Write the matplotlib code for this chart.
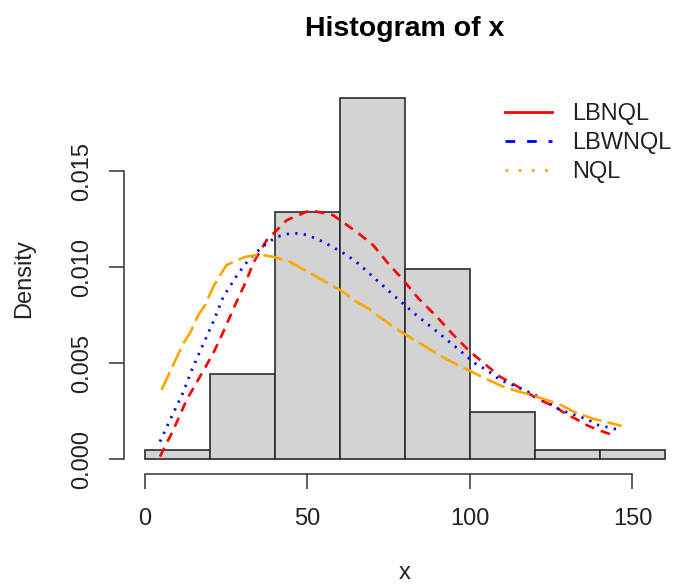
import numpy as np
import matplotlib
matplotlib.use("Agg")
import matplotlib.pyplot as plt
from matplotlib.lines import Line2D

plt.rcParams['font.family'] = ['Liberation Sans', 'DejaVu Sans']
plt.rcParams['lines.scale_dashes'] = False

# histogram of x (bin edges and counts, n = 101)
bin_edges = [0, 20, 40, 60, 80, 100, 120, 140, 160]
counts = [1, 9, 26, 38, 20, 5, 1, 1]

# fitted densities
lbnql_x = [4.6, 8.7, 12.8, 16.9, 21.0, 24.6, 27.7, 30.8, 33.5, 37.4, 43.6, 50.8,
           57.9, 65.1, 70.2, 74.4, 79.5, 84.1, 89.8, 94.4, 100.0, 105.6, 109.2,
           113.3, 116.4, 120.5, 122.6, 126.2, 129.2, 132.8, 135.9, 139.5, 143.1]
lbnql_y = [0.00014, 0.00152, 0.00309, 0.0043, 0.00552, 0.00682, 0.00803, 0.00916,
           0.01028, 0.0114, 0.01245, 0.01297, 0.01271, 0.01184, 0.01115, 0.01028,
           0.00933, 0.00838, 0.00742, 0.00656, 0.0056, 0.00482, 0.0043, 0.00392,
           0.00361, 0.00317, 0.003, 0.00274, 0.00239, 0.00208, 0.00178, 0.00152,
           0.00131]

lbwnql_x = [4.6, 8.2, 11.6, 14.4, 17.8, 21.0, 24.1, 28.7, 31.8, 34.4, 37.4, 40.5,
            44.6, 48.2, 51.3, 54.9, 58.5, 62.1, 65.6, 71.3, 77.2, 83.4, 89.5, 95.7,
            101.5, 105.9, 109.2, 113.1, 116.6, 120.5, 127.7, 135.4, 139.5, 143.1, 146.7]
lbwnql_y = [0.00092, 0.00222, 0.00343, 0.00465, 0.00595, 0.00716, 0.00846, 0.00968,
            0.01037, 0.0108, 0.01124, 0.01158, 0.01176, 0.01176, 0.01158, 0.01132,
            0.01098, 0.01063, 0.0102, 0.00933, 0.00843, 0.00752, 0.00669, 0.00583,
            0.005, 0.00456, 0.00413, 0.00387, 0.00361, 0.0033, 0.00257, 0.00213,
            0.00178, 0.00164, 0.00149]

nql_x = [5.1, 7.7, 11.8, 13.8, 16.4, 18.5, 21.0, 23.1, 25.1, 27.2, 30.8, 34.4, 36.4,
         39.5, 44.6, 48.2, 52.8, 56.4, 61.0, 64.1, 68.7, 72.3, 76.4, 79.5, 84.6,
         87.7, 92.3, 95.9, 100.5, 104.1, 109.8, 113.3, 119.5, 124.6, 128.7, 131.8,
         137.9, 141.5, 146.7]
nql_y = [0.00361, 0.00456, 0.00604, 0.00656, 0.00751, 0.00803, 0.00898, 0.00959,
         0.01011, 0.01028, 0.01054, 0.01063, 0.01063, 0.01054, 0.01028, 0.00994,
         0.0095, 0.00916, 0.00872, 0.00829, 0.00786, 0.00739, 0.0069, 0.00656,
         0.00604, 0.00572, 0.00525, 0.00494, 0.00456, 0.00425, 0.00381, 0.00361,
         0.00331, 0.00303, 0.00277, 0.00248, 0.00211, 0.00196, 0.00173]

x_ticks = [0, 50, 100, 150]
y_ticks = [0.000, 0.005, 0.010, 0.015]
y_tick_labels = ['0.000', '0.005', '0.010', '0.015']

W, H = 673, 587
fig = plt.figure(figsize=(W / 100, H / 100), dpi=100)

# plot region (R style, 4% padding), runs past the right edge of the image
ax = fig.add_axes([124.2 / W, 113.3 / H, (685.8 - 124.2) / W, (473.7 - 83.6) / H])

edges = np.array(bin_edges)
density = np.array(counts) / (sum(counts) * np.diff(edges))
ax.bar(edges[:-1], density, width=np.diff(edges), align='edge',
       color='#d3d3d3', edgecolor='#2b2b2b', linewidth=1.2)

ax.plot(lbnql_x, lbnql_y, color='red', lw=1.9, dashes=(7, 5))
ax.plot(lbwnql_x, lbwnql_y, color='blue', lw=2.0, dashes=(1.6, 4.6))
ax.plot(nql_x, nql_y, color='orange', lw=1.9, dashes=(14, 4.5))

ymax = density.max()
ax.set_xlim(-0.04 * 160, 160 * 1.04)
ax.set_ylim(-0.04 * ymax, ymax * 1.04)

for s in ['top', 'right']:
    ax.spines[s].set_visible(False)
ax.spines['left'].set_bounds(0, 0.015)
ax.spines['bottom'].set_bounds(0, 150)
for s in ['left', 'bottom']:
    ax.spines[s].set_color('#333333')
    ax.spines[s].set_linewidth(1.1)

ax.set_xticks(x_ticks)
ax.set_xticklabels([str(t) for t in x_ticks])
ax.set_yticks(y_ticks)
ax.set_yticklabels(y_tick_labels, rotation=90, va='center')
ax.tick_params(axis='both', length=10.5, width=1.1, color='#333333',
               labelsize=17, labelcolor='#222222')
ax.tick_params(axis='x', pad=14.5)
ax.tick_params(axis='y', pad=12)

fig.text(405 / W, 1 - 29 / H, 'Histogram of x', ha='center', va='center',
         fontsize=20.5, fontweight='bold')
fig.text(24 / W, 1 - 279 / H, 'Density', rotation=90, ha='center', va='center',
         fontsize=17, color='#222222')
fig.text(405 / W, 1 - 573 / H, 'x', ha='center', va='center', fontsize=17,
         color='#222222')

handles = [
    Line2D([], [], color='red', lw=2.0),
    Line2D([], [], color='blue', lw=2.0, dashes=(7, 8.5)),
    Line2D([], [], color='orange', lw=2.0, dashes=(2, 7.5)),
]
fig.legend(handles, ['LBNQL', 'LBWNQL', 'NQL'], loc='upper left',
           bbox_to_anchor=(505 / W, 1 - 103 / H), frameon=False, fontsize=17,
           handlelength=2.0, handletextpad=0.85, labelspacing=0.3,
           borderpad=0, borderaxespad=0, labelcolor='#222222')

fig.savefig('out.png', dpi=100)
